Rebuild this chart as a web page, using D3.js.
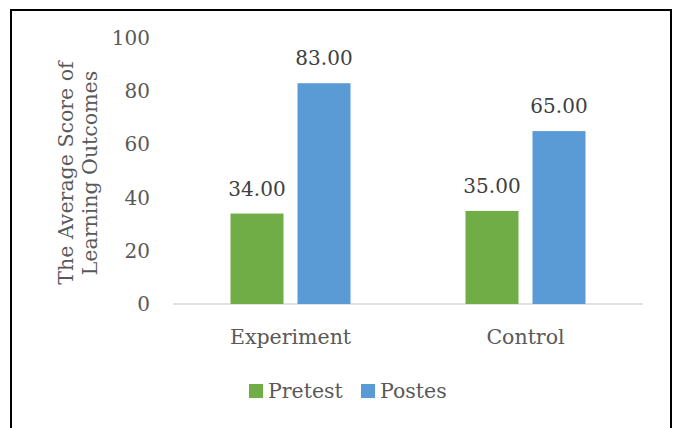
<!DOCTYPE html>
<html><head><meta charset="utf-8">
<script src="https://cdn.jsdelivr.net/npm/d3@7"></script>
<style>body{margin:0;background:#fff}svg{display:block}</style>
</head><body>
<svg id="c" width="676" height="428"></svg>
<script>
const categories = ["Experiment", "Control"];
const seriesNames = ["Pretest", "Postes"];
const pretest = [34, 35];
const postes = [83, 65];
const yTicks = [0, 20, 40, 60, 80, 100];
const colors = ["#70AD47", "#5B9BD5"];

const svg = d3.select("#c");
const font = "'DejaVu Serif', 'Liberation Serif', serif";
const fs = 20.5, fn = 20;
svg.append("rect").attr("x", 11).attr("y", 10).attr("width", 660).attr("height", 440)
  .attr("fill", "#fff").attr("stroke", "#000").attr("stroke-width", 2);

const plot = {l: 173, r: 643, t: 38, b: 304};
const x = d3.scaleBand().domain(categories).range([plot.l, plot.r]);
const y = d3.scaleLinear().domain([0, 100]).range([plot.b, plot.t]);
const bw = 53, gap = 14;

// y tick labels
svg.append("g").selectAll("text").data(yTicks).join("text")
  .attr("x", 150).attr("y", d => y(d)).attr("dy", "0.35em").attr("text-anchor", "end")
  .attr("font-family", font).attr("font-size", fn).attr("fill", "#595959").text(d => d);

// baseline
svg.append("line").attr("x1", plot.l).attr("x2", plot.r).attr("y1", y(0)).attr("y2", y(0))
  .attr("stroke", "#d9d9d9").attr("stroke-width", 1.5);

const data = [];
categories.forEach((c, i) => {
  data.push({cat: c, s: 0, v: pretest[i]});
  data.push({cat: c, s: 1, v: postes[i]});
});
const barX = d => x(d.cat) + x.bandwidth() / 2 + (d.s === 0 ? -(gap / 2 + bw) : gap / 2);

svg.append("g").selectAll("rect").data(data).join("rect")
  .attr("x", barX).attr("width", bw)
  .attr("y", d => y(d.v)).attr("height", d => y(0) - y(d.v))
  .attr("fill", d => colors[d.s]);

svg.append("g").selectAll("text").data(data).join("text")
  .attr("x", d => barX(d) + bw / 2).attr("y", d => y(d.v) - 18)
  .attr("text-anchor", "middle").attr("font-family", font).attr("font-size", fn)
  .attr("fill", "#404040").text(d => d.v.toFixed(2));

// category labels
svg.append("g").selectAll("text").data(categories).join("text")
  .attr("x", d => x(d) + x.bandwidth() / 2).attr("y", 344).attr("text-anchor", "middle")
  .attr("font-family", font).attr("font-size", fs).attr("fill", "#595959").text(d => d);

// y axis title
const t = svg.append("text").attr("transform", "translate(75,173) rotate(-90)")
  .attr("text-anchor", "middle").attr("font-family", font).attr("font-size", fs).attr("fill", "#595959");
t.append("tspan").attr("x", 0).attr("dy", "-0.1em").text("The Average Score of");
t.append("tspan").attr("x", 0).attr("dy", "1.15em").text("Learning Outcomes");

// legend
const legX = [249, 361];
const lg = svg.append("g").selectAll("g").data(seriesNames).join("g")
  .attr("transform", (d, i) => `translate(${legX[i]},384)`);
lg.append("rect").attr("width", 14).attr("height", 14).attr("fill", (d, i) => colors[i]);
lg.append("text").attr("x", 19).attr("y", 7).attr("dy", "0.35em")
  .attr("font-family", font).attr("font-size", fs).attr("fill", "#595959").text(d => d);
</script>
</body></html>
